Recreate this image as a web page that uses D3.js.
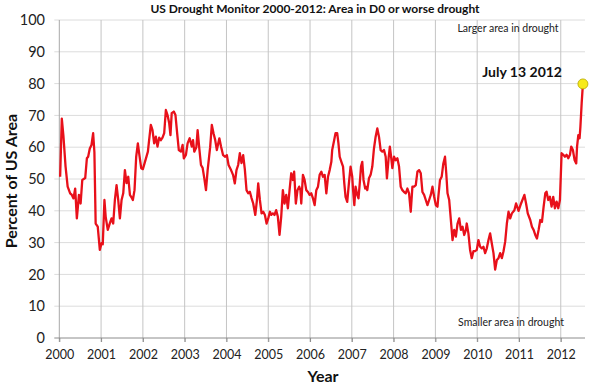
<!DOCTYPE html>
<html>
<head>
<meta charset="utf-8">
<script src="https://cdn.jsdelivr.net/npm/d3@7"></script>
<style>
  body { margin: 0; background: #fff; }
  svg { font-family: Lato, "Open Sans", sans-serif; }
</style>
</head>
<body>
<div id="plot"></div>
<script>
// weekly-ish readings (decimal year, % of US area in D0+)
const weeks = [
  2000.02, 2000.06, 2000.10, 2000.15, 2000.20, 2000.26, 2000.30, 2000.34, 2000.38, 2000.42,
  2000.47, 2000.51, 2000.55, 2000.62, 2000.66, 2000.69, 2000.73, 2000.77, 2000.81, 2000.84,
  2000.87, 2000.92, 2000.97, 2001.01, 2001.04, 2001.08, 2001.11, 2001.16, 2001.21, 2001.25,
  2001.29, 2001.33, 2001.37, 2001.41, 2001.45, 2001.49, 2001.53, 2001.57, 2001.61, 2001.65,
  2001.69, 2001.72, 2001.76, 2001.80, 2001.84, 2001.88, 2001.92, 2001.96, 2002.00, 2002.05,
  2002.12, 2002.15, 2002.19, 2002.23, 2002.27, 2002.31, 2002.35, 2002.39, 2002.43, 2002.47,
  2002.51, 2002.55, 2002.59, 2002.63, 2002.66, 2002.69, 2002.74, 2002.78, 2002.82, 2002.86,
  2002.91, 2002.95, 2002.98, 2003.03, 2003.07, 2003.12, 2003.17, 2003.20, 2003.23, 2003.28,
  2003.31, 2003.35, 2003.39, 2003.43, 2003.47, 2003.51, 2003.55, 2003.61, 2003.65, 2003.69,
  2003.73, 2003.77, 2003.83, 2003.87, 2003.92, 2003.97, 2004.01, 2004.05, 2004.11, 2004.16,
  2004.20, 2004.24, 2004.28, 2004.32, 2004.36, 2004.40, 2004.44, 2004.48, 2004.52, 2004.56,
  2004.60, 2004.64, 2004.69, 2004.73, 2004.76, 2004.80, 2004.84, 2004.88, 2004.92, 2004.96,
  2005.00, 2005.04, 2005.07, 2005.11, 2005.15, 2005.19, 2005.23, 2005.27, 2005.31, 2005.35,
  2005.39, 2005.43, 2005.47, 2005.51, 2005.55, 2005.59, 2005.62, 2005.66, 2005.70, 2005.74,
  2005.77, 2005.79, 2005.83, 2005.87, 2005.91, 2005.95, 2005.99, 2006.03, 2006.07, 2006.11,
  2006.15, 2006.19, 2006.23, 2006.27, 2006.31, 2006.35, 2006.39, 2006.43, 2006.47, 2006.51,
  2006.53, 2006.57, 2006.61, 2006.65, 2006.68, 2006.71, 2006.75, 2006.79, 2006.82, 2006.85,
  2006.89, 2006.93, 2006.97, 2007.01, 2007.03, 2007.06, 2007.09, 2007.13, 2007.16, 2007.19,
  2007.22, 2007.25, 2007.28, 2007.32, 2007.35, 2007.37, 2007.41, 2007.45, 2007.49, 2007.53,
  2007.57, 2007.61, 2007.65, 2007.69, 2007.73, 2007.77, 2007.81, 2007.84, 2007.88, 2007.91,
  2007.94, 2007.97, 2008.01, 2008.05, 2008.09, 2008.13, 2008.17, 2008.21, 2008.25, 2008.29,
  2008.33, 2008.37, 2008.41, 2008.45, 2008.49, 2008.53, 2008.57, 2008.61, 2008.65, 2008.69,
  2008.73, 2008.77, 2008.81, 2008.85, 2008.89, 2008.93, 2008.97, 2009.01, 2009.05, 2009.07,
  2009.11, 2009.15, 2009.19, 2009.23, 2009.26, 2009.29, 2009.33, 2009.37, 2009.41, 2009.45,
  2009.49, 2009.53, 2009.57, 2009.61, 2009.65, 2009.69, 2009.73, 2009.75, 2009.79, 2009.83,
  2009.87, 2009.91, 2009.95, 2009.99, 2010.03, 2010.07, 2010.11, 2010.15, 2010.19, 2010.23,
  2010.27, 2010.31, 2010.35, 2010.39, 2010.43, 2010.47, 2010.51, 2010.55, 2010.59, 2010.63,
  2010.67, 2010.71, 2010.75, 2010.79, 2010.83, 2010.89, 2010.93, 2010.99, 2011.05, 2011.13,
  2011.17, 2011.21, 2011.27, 2011.31, 2011.35, 2011.39, 2011.43, 2011.47, 2011.51, 2011.55,
  2011.59, 2011.63, 2011.66, 2011.70, 2011.74, 2011.78, 2011.82, 2011.86, 2011.90, 2011.94,
  2011.98, 2012.02, 2012.06, 2012.10, 2012.14, 2012.18, 2012.22, 2012.25, 2012.29, 2012.33,
  2012.37, 2012.39, 2012.42, 2012.45, 2012.47, 2012.50, 2012.53
];
const pctArea = [
  50.7, 69.0, 63.3, 53.9, 47.6, 45.5, 45.0, 43.9, 47.0, 37.6,
  45.0, 42.3, 49.7, 50.3, 56.5, 57.0, 59.6, 60.7, 64.4, 58.4,
  36.0, 35.0, 27.7, 29.8, 29.5, 43.4, 38.1, 34.0, 36.1, 37.6,
  36.0, 43.4, 48.1, 43.4, 37.6, 43.4, 45.5, 52.8, 48.7, 50.7,
  45.0, 44.4, 43.4, 46.5, 57.0, 61.2, 57.2, 53.4, 53.1, 55.4,
  58.6, 62.3, 67.0, 65.4, 61.2, 63.3, 60.2, 63.0, 62.2, 63.0,
  64.4, 71.7, 70.1, 67.5, 63.8, 70.7, 71.2, 70.1, 64.4, 59.1,
  58.6, 60.7, 56.5, 57.6, 61.2, 62.8, 60.2, 62.2, 58.6, 60.0,
  65.4, 59.6, 54.4, 53.5, 50.2, 46.5, 52.8, 60.0, 67.0, 64.4,
  62.3, 59.1, 62.8, 60.2, 57.5, 57.0, 57.5, 54.4, 52.8, 51.2,
  48.6, 52.8, 54.4, 58.1, 55.0, 57.5, 53.0, 46.5, 45.5, 46.0,
  44.0, 42.3, 38.7, 43.4, 48.6, 43.4, 39.2, 39.7, 38.7, 36.0,
  37.6, 39.7, 38.7, 39.2, 38.7, 40.2, 38.1, 32.4, 38.1, 46.5,
  42.3, 45.0, 40.8, 46.5, 51.8, 49.7, 52.3, 42.3, 46.5, 47.6,
  46.5, 42.3, 51.3, 49.7, 46.5, 45.9, 45.0, 45.5, 43.9, 41.8,
  46.5, 47.6, 51.3, 52.3, 50.7, 51.3, 45.5, 50.7, 52.8, 55.4,
  59.1, 61.7, 64.4, 64.4, 61.2, 57.0, 55.4, 53.9, 48.6, 44.4,
  42.8, 48.6, 53.9, 50.7, 46.5, 41.8, 47.6, 45.0, 43.9, 48.6,
  53.9, 55.4, 49.7, 47.0, 47.5, 46.5, 50.2, 51.3, 53.9, 59.6,
  63.3, 65.9, 63.3, 59.1, 58.6, 59.1, 57.0, 50.2, 56.5, 60.2,
  57.0, 53.4, 57.0, 55.9, 56.5, 53.9, 47.6, 46.5, 45.9, 45.5,
  47.0, 45.5, 39.7, 47.6, 47.6, 48.1, 52.3, 52.8, 51.8, 45.9,
  45.0, 43.4, 41.8, 43.4, 45.0, 47.6, 44.4, 41.8, 41.3, 44.4,
  49.7, 50.7, 54.9, 57.0, 51.8, 45.5, 43.4, 37.1, 30.8, 34.0,
  31.9, 36.0, 37.6, 34.0, 35.0, 32.4, 34.0, 36.0, 32.9, 27.7,
  25.1, 27.3, 27.3, 27.7, 30.8, 28.7, 28.2, 28.7, 26.7, 28.2,
  30.8, 32.9, 29.7, 26.7, 21.5, 24.5, 25.1, 26.7, 25.1, 27.3,
  30.3, 36.0, 39.7, 37.6, 39.2, 40.2, 42.3, 40.0, 42.3, 45.0,
  42.3, 39.2, 37.1, 35.0, 34.0, 32.4, 31.3, 34.0, 37.1, 36.5,
  41.3, 45.5, 46.0, 43.4, 44.4, 41.3, 44.4, 40.8, 42.9, 40.8,
  43.4, 58.1, 57.6, 57.0, 57.6, 56.5, 57.6, 60.2, 59.1, 56.0,
  54.9, 60.2, 63.8, 62.8, 66.4, 73.8, 79.9
];
const yearTicks = d3.range(2000, 2013);
const pctTicks = d3.range(0, 101, 10);
const titleText = "US Drought Monitor 2000-2012:  Area in D0 or worse drought";

const data = weeks.map((w, i) => ({ t: w, v: pctArea[i] }));

const width = 590, height = 391;
const plotLeft = 59.3, plotRight = 585, plotTop = 20, plotBottom = 338;

const svg = d3.select("#plot").append("svg")
  .attr("width", width)
  .attr("height", height);

const x = d3.scaleLinear().domain([2000, 2012.58]).range([plotLeft, plotRight]);
const y = d3.scaleLinear().domain([0, 100]).range([plotBottom, plotTop]);

// horizontal grid
svg.append("g")
  .selectAll("line")
  .data(pctTicks.filter(d => d > 0))
  .enter().append("line")
    .attr("x1", plotLeft - 5).attr("x2", plotRight)
    .attr("y1", d => y(d)).attr("y2", d => y(d))
    .style("stroke", "#dcdcdc");

// vertical grid (one per year)
svg.append("g")
  .selectAll("line")
  .data(yearTicks)
  .enter().append("line")
    .attr("x1", d => x(d)).attr("x2", d => x(d))
    .attr("y1", plotTop).attr("y2", plotBottom + 4)
    .style("stroke", d => d == 2000 ? "#a8a8a8" : "#c4c4c4");

// x axis
const xAxis = svg.append("g")
  .attr("transform", "translate(0," + plotBottom + ")")
  .call(d3.axisBottom(x).tickValues(yearTicks).tickFormat(d3.format("d")).tickSize(4));
xAxis.select(".domain").attr("d", "M" + (plotLeft - 5) + ",0H" + plotRight).style("stroke", "#8c8c8c");
xAxis.selectAll(".tick line").style("stroke", "#8c8c8c");
xAxis.selectAll("text")
  .attr("y", 12)
  .style("font-family", "Lato, sans-serif")
  .style("font-size", "12.5px")
  .style("fill", "#222");

// y axis labels
svg.append("g")
  .selectAll("text")
  .data(pctTicks)
  .enter().append("text")
    .attr("x", 45)
    .attr("y", d => y(d))
    .attr("dy", "0.36em")
    .style("text-anchor", "end")
    .style("font-size", "14.5px")
    .style("fill", "#222")
    .text(d => d);

// the series
const line = d3.line().x(d => x(d.t)).y(d => y(d.v));
svg.append("path")
  .datum(data)
  .attr("d", line)
  .style("fill", "none")
  .style("stroke", "#e8101a")
  .style("stroke-width", 2.3)
  .style("stroke-linejoin", "round");

// last week marker
const last = data[data.length - 1];
svg.append("circle")
  .attr("cx", x(last.t))
  .attr("cy", y(last.v))
  .attr("r", 5)
  .style("fill", "#f7ea1a")
  .style("stroke", "#b5a800")
  .style("stroke-width", 0.8);

// text
svg.append("text")
  .attr("x", 315).attr("y", 13)
  .style("text-anchor", "middle")
  .style("font-size", "12px")
  .style("font-weight", "bold")
  .style("fill", "#111")
  .text(titleText);

svg.append("text")
  .attr("transform", "translate(17,181) rotate(-90)")
  .style("text-anchor", "middle")
  .style("font-size", "16px")
  .style("font-weight", "bold")
  .style("fill", "#111")
  .text("Percent of US Area");

svg.append("text")
  .attr("x", 323).attr("y", 382)
  .style("text-anchor", "middle")
  .style("font-size", "16px")
  .style("font-weight", "bold")
  .style("fill", "#111")
  .text("Year");

svg.append("text")
  .attr("x", 508).attr("y", 32)
  .style("text-anchor", "middle")
  .style("font-size", "10.5px")
  .style("fill", "#222")
  .text("Larger area in drought");

svg.append("text")
  .attr("x", 511).attr("y", 326)
  .style("text-anchor", "middle")
  .style("font-size", "10.5px")
  .style("fill", "#222")
  .text("Smaller area in drought");

svg.append("text")
  .attr("x", 562).attr("y", 77)
  .style("text-anchor", "end")
  .style("font-size", "14px")
  .style("font-weight", "bold")
  .style("fill", "#111")
  .text("July 13 2012");
</script>
</body>
</html>
